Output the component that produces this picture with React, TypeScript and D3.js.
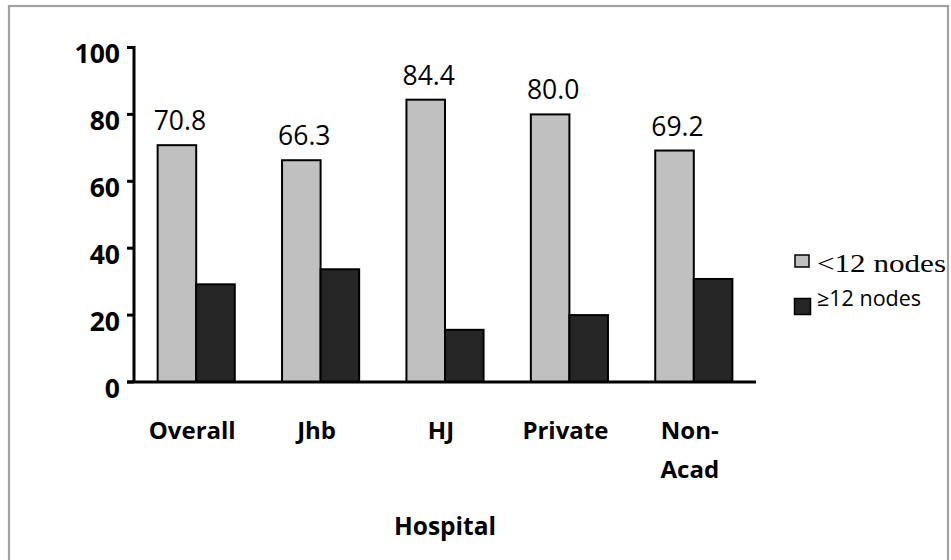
import React from "react";
import * as d3 from "d3";

const categories = ["Overall", "Jhb", "HJ", "Private", "Non-Acad"];
const seriesNames = ["<12 nodes", "≥12 nodes"];
const under12 = [70.8, 66.3, 84.4, 80.0, 69.2];
const atLeast12 = [29.2, 33.7, 15.6, 20.0, 30.8];
const yTicks = [0, 20, 40, 60, 80, 100];
const xAxisTitle = "Hospital";

const W = 951;
const H = 560;
const plot = { left: 134, right: 756, top: 47.5, bottom: 382 };
const colors = ["#c0c0c0", "#262626"];
const sans = "'Open Sans', sans-serif";

export default function App() {
  const x = d3
    .scaleBand<string>()
    .domain(categories)
    .range([plot.left, plot.right])
    .paddingInner(0.38)
    .paddingOuter(0.19);
  const xs = d3
    .scaleBand<string>()
    .domain(seriesNames)
    .range([0, x.bandwidth()]);
  const y = d3.scaleLinear().domain([0, 100]).range([plot.bottom, plot.top]);

  const series = [under12, atLeast12];

  return (
    <svg
      width={W}
      height={H}
      style={{ position: "absolute", left: 0, top: 0, background: "#fff" }}
    >
      {/* outer frame */}
      <rect x={9} y={6} width={939} height={H} fill="none" stroke="#a0a0a0" strokeWidth={2.2} />

      {/* bars */}
      {categories.map((c, i) =>
        series.map((vals, s) => (
          <rect
            key={c + s}
            x={(x(c) as number) + (xs(seriesNames[s]) as number)}
            y={y(vals[i])}
            width={xs.bandwidth()}
            height={y(0) - y(vals[i])}
            fill={colors[s]}
            stroke="#000"
            strokeWidth={2}
          />
        ))
      )}

      {/* value labels on the <12 nodes bars */}
      {categories.map((c, i) => (
        <text
          key={"v" + c}
          x={(x(c) as number) + (xs(seriesNames[0]) as number) + xs.bandwidth() / 2 + 3}
          y={y(under12[i]) - 15}
          textAnchor="middle"
          fontFamily={sans}
          fontSize={26.5}
          fill="#000"
        >
          {under12[i].toFixed(1)}
        </text>
      ))}

      {/* y axis */}
      <line x1={plot.left} x2={plot.left} y1={plot.top - 1.5} y2={plot.bottom} stroke="#000" strokeWidth={3} />
      {yTicks.map((t) => (
        <g key={"t" + t}>
          <line x1={plot.left - 7} x2={plot.left} y1={y(t)} y2={y(t)} stroke="#000" strokeWidth={3} />
          <text
            x={120}
            y={y(t) + 15.5}
            textAnchor="end"
            fontFamily={sans}
            fontWeight="bold"
            fontSize={26.5}
            fill="#000"
          >
            {t}
          </text>
        </g>
      ))}

      {/* x axis */}
      <line x1={plot.left - 7} x2={plot.right} y1={plot.bottom} y2={plot.bottom} stroke="#000" strokeWidth={3} />
      {categories.map((c) => {
        const cx = (x(c) as number) + x.bandwidth() / 2 - 4;
        const parts = c === "Non-Acad" ? ["Non-", "Acad"] : [c];
        return (
          <text
            key={"x" + c}
            x={cx}
            y={439}
            textAnchor="middle"
            fontFamily={sans}
            fontWeight="bold"
            fontSize={24}
            fill="#000"
          >
            {parts.map((p, k) => (
              <tspan key={k} x={cx} dy={k === 0 ? 0 : 39}>
                {p}
              </tspan>
            ))}
          </text>
        );
      })}
      <text
        x={(plot.left + plot.right) / 2}
        y={535}
        textAnchor="middle"
        fontFamily={sans}
        fontWeight="bold"
        fontSize={24.5}
        fill="#000"
      >
        {xAxisTitle}
      </text>

      {/* legend */}
      <rect x={795} y={255} width={14} height={12} fill={colors[0]} stroke="#000" strokeWidth={1.5} />
      <text
        x={817}
        y={271.5}
        fontFamily="'Liberation Serif', 'Times New Roman', serif"
        fontSize={26}
        textLength={129}
        lengthAdjust="spacingAndGlyphs"
        fill="#000"
      >
        {seriesNames[0]}
      </text>
      <rect x={794.5} y={298.5} width={16} height={16} fill={colors[1]} stroke="#000" strokeWidth={1.5} />
      <text x={817} y={305.5} fontFamily={sans} fontSize={21.5} fill="#000">
        {seriesNames[1]}
      </text>
    </svg>
  );
}
